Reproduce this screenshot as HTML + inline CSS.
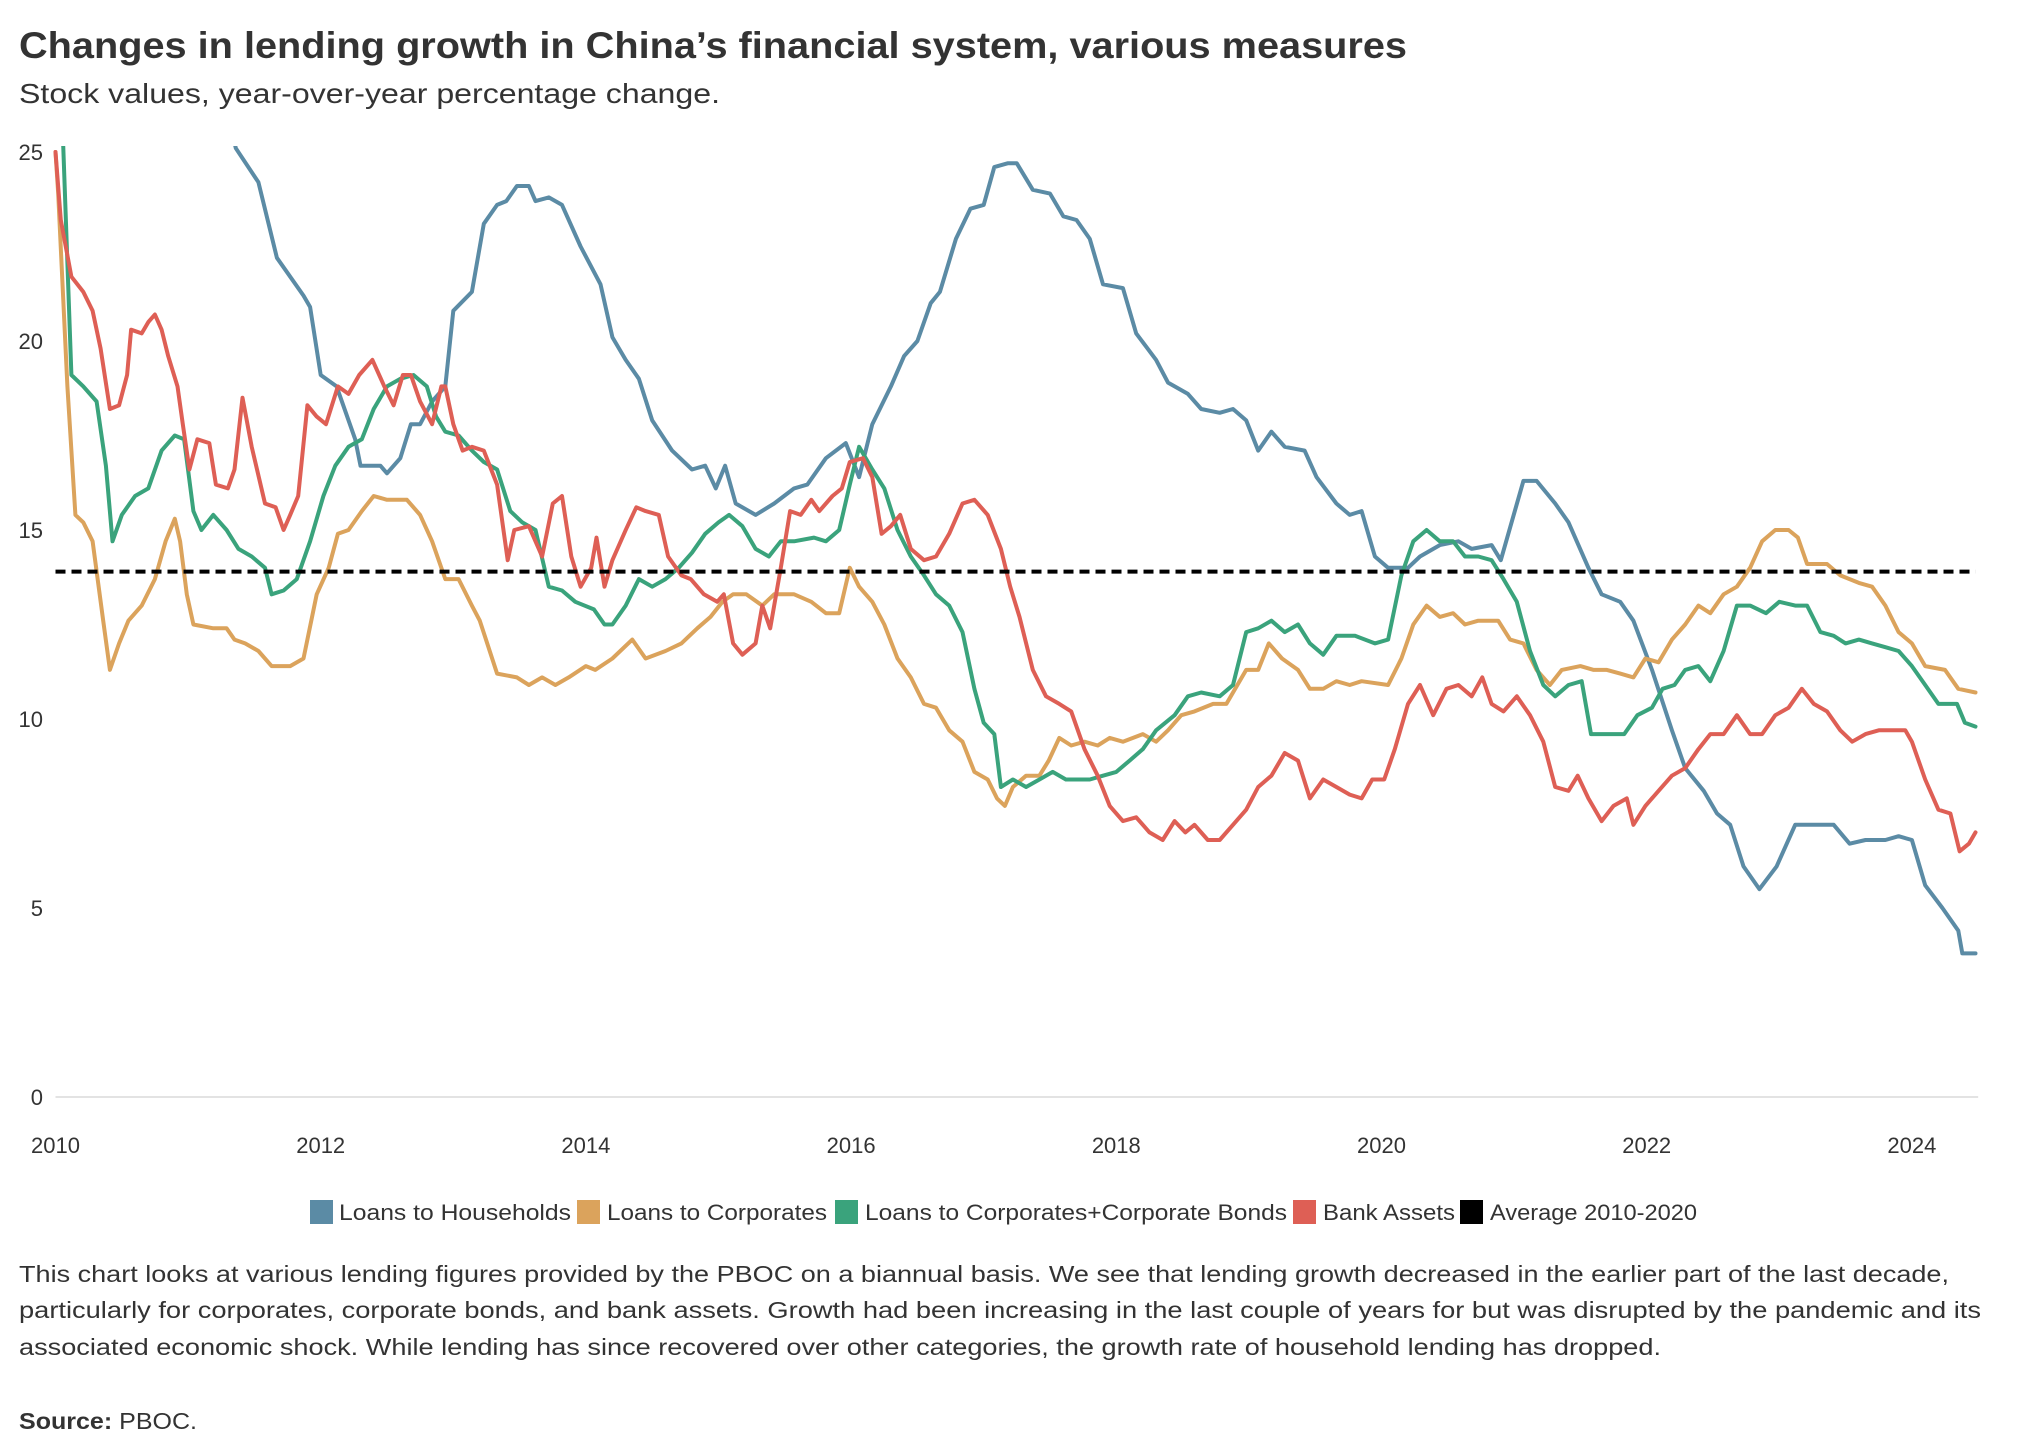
<!DOCTYPE html>
<html><head><meta charset="utf-8"><style>
html,body{margin:0;padding:0;background:#fff;}
svg{display:block;font-family:"Liberation Sans",sans-serif;}
</style></head><body>
<svg id="chart" width="2024" height="1455" viewBox="0 0 2024 1455" xmlns="http://www.w3.org/2000/svg">
<text x="19" y="58" font-size="37" font-weight="bold" fill="#333" textLength="1388" lengthAdjust="spacingAndGlyphs">Changes in lending growth in China’s financial system, various measures</text>
<text x="19" y="103" font-size="28" fill="#333" textLength="701" lengthAdjust="spacingAndGlyphs">Stock values, year-over-year percentage change.</text>
<defs><clipPath id="plotclip"><rect x="40" y="146" width="1960" height="960"/></clipPath></defs>
<g id="axes"></g>
<g id="series" clip-path="url(#plotclip)"></g>
<g id="legend">
<rect x="310" y="1200" width="23" height="24" fill="#5b8ba5"/>
<text x="339" y="1220" font-size="22" fill="#333" textLength="232" lengthAdjust="spacingAndGlyphs">Loans to Households</text>
<rect x="577" y="1200" width="23" height="24" fill="#dba35c"/>
<text x="607" y="1220" font-size="22" fill="#333" textLength="220" lengthAdjust="spacingAndGlyphs">Loans to Corporates</text>
<rect x="835" y="1200" width="23" height="24" fill="#3aa37c"/>
<text x="865" y="1220" font-size="22" fill="#333" textLength="422" lengthAdjust="spacingAndGlyphs">Loans to Corporates+Corporate Bonds</text>
<rect x="1293" y="1200" width="23" height="24" fill="#de5f55"/>
<text x="1323" y="1220" font-size="22" fill="#333" textLength="132" lengthAdjust="spacingAndGlyphs">Bank Assets</text>
<rect x="1460" y="1200" width="23" height="24" fill="#000"/>
<text x="1490" y="1220" font-size="22" fill="#333" textLength="207" lengthAdjust="spacingAndGlyphs">Average 2010-2020</text>
</g>
<g font-size="23" fill="#333">
<text x="19" y="1282" textLength="1930" lengthAdjust="spacingAndGlyphs">This chart looks at various lending figures provided by the PBOC on a biannual basis. We see that lending growth decreased in the earlier part of the last decade,</text>
<text x="19" y="1318" textLength="1962" lengthAdjust="spacingAndGlyphs">particularly for corporates, corporate bonds, and bank assets. Growth had been increasing in the last couple of years for but was disrupted by the pandemic and its</text>
<text x="19" y="1355" textLength="1642" lengthAdjust="spacingAndGlyphs">associated economic shock. While lending has since recovered over other categories, the growth rate of household lending has dropped.</text>
</g>
<text x="19" y="1429" font-size="23" fill="#333" textLength="178" lengthAdjust="spacingAndGlyphs"><tspan font-weight="bold">Source:</tspan> PBOC.</text>
</svg>
<script>
const yTicks=[0,5,10,15,20,25];
const xTicks=[2010,2012,2014,2016,2018,2020,2022,2024];
const averageValue=13.9;
const hhDates=[2011.3,2011.36,2011.53,2011.67,2011.87,2011.92,2012.0,2012.12,2012.26,2012.3,2012.45,2012.5,2012.6,2012.68,2012.75,2012.84,2012.94,2013.0,2013.14,2013.23,2013.33,2013.4,2013.48,2013.57,2013.62,2013.72,2013.82,2013.96,2014.11,2014.2,2014.3,2014.4,2014.5,2014.65,2014.8,2014.9,2014.98,2015.05,2015.13,2015.28,2015.42,2015.57,2015.67,2015.81,2015.96,2016.06,2016.16,2016.3,2016.4,2016.5,2016.6,2016.67,2016.79,2016.9,2017.0,2017.08,2017.18,2017.25,2017.37,2017.5,2017.6,2017.7,2017.8,2017.9,2018.05,2018.15,2018.3,2018.39,2018.54,2018.64,2018.78,2018.88,2018.98,2019.07,2019.17,2019.27,2019.42,2019.51,2019.66,2019.76,2019.85,2019.95,2020.05,2020.2,2020.29,2020.44,2020.58,2020.68,2020.83,2020.9,2021.07,2021.17,2021.31,2021.41,2021.56,2021.66,2021.8,2021.9,2022.04,2022.19,2022.29,2022.43,2022.53,2022.63,2022.73,2022.85,2022.98,2023.12,2023.31,2023.41,2023.53,2023.65,2023.8,2023.9,2024.0,2024.1,2024.23,2024.35,2024.38,2024.48];
const hhValues=[26,25.1,24.2,22.2,21.2,20.9,19.1,18.8,17.4,16.7,16.7,16.5,16.9,17.8,17.8,18.4,18.8,20.8,21.3,23.1,23.6,23.7,24.1,24.1,23.7,23.8,23.6,22.5,21.5,20.1,19.5,19.0,17.9,17.1,16.6,16.7,16.1,16.7,15.7,15.4,15.7,16.1,16.2,16.9,17.3,16.4,17.8,18.8,19.6,20.0,21.0,21.3,22.7,23.5,23.6,24.6,24.7,24.7,24.0,23.9,23.3,23.2,22.7,21.5,21.4,20.2,19.5,18.9,18.6,18.2,18.1,18.2,17.9,17.1,17.6,17.2,17.1,16.4,15.7,15.4,15.5,14.3,14.0,14.0,14.3,14.6,14.7,14.5,14.6,14.2,16.3,16.3,15.7,15.2,14.0,13.3,13.1,12.6,11.3,9.7,8.7,8.1,7.5,7.2,6.1,5.5,6.1,7.2,7.2,7.2,6.7,6.8,6.8,6.9,6.8,5.6,5.0,4.4,3.8,3.8];
const coDates=[2010.0,2010.02,2010.09,2010.15,2010.21,2010.28,2010.36,2010.41,2010.48,2010.55,2010.65,2010.75,2010.83,2010.9,2010.94,2010.99,2011.04,2011.19,2011.29,2011.35,2011.43,2011.53,2011.63,2011.77,2011.87,2011.97,2012.06,2012.13,2012.21,2012.31,2012.4,2012.5,2012.65,2012.75,2012.84,2012.94,2013.04,2013.14,2013.2,2013.33,2013.48,2013.57,2013.67,2013.77,2013.87,2014.0,2014.07,2014.2,2014.35,2014.45,2014.6,2014.72,2014.84,2014.94,2015.03,2015.11,2015.21,2015.33,2015.42,2015.57,2015.7,2015.81,2015.91,2015.99,2016.06,2016.16,2016.25,2016.35,2016.45,2016.55,2016.64,2016.74,2016.84,2016.93,2017.03,2017.1,2017.16,2017.22,2017.32,2017.42,2017.49,2017.57,2017.66,2017.76,2017.86,2017.95,2018.05,2018.2,2018.3,2018.39,2018.49,2018.59,2018.73,2018.83,2018.98,2019.07,2019.15,2019.25,2019.37,2019.46,2019.56,2019.66,2019.76,2019.85,2020.05,2020.15,2020.24,2020.34,2020.44,2020.54,2020.63,2020.73,2020.88,2020.97,2021.07,2021.17,2021.27,2021.36,2021.5,2021.6,2021.7,2021.8,2021.9,2021.99,2022.09,2022.19,2022.29,2022.39,2022.48,2022.58,2022.68,2022.78,2022.87,2022.97,2023.07,2023.14,2023.21,2023.36,2023.46,2023.6,2023.7,2023.8,2023.9,2024.0,2024.1,2024.25,2024.35,2024.48];
const coValues=[25,23.9,18.8,15.4,15.2,14.7,12.6,11.3,12.0,12.6,13.0,13.7,14.7,15.3,14.7,13.3,12.5,12.4,12.4,12.1,12.0,11.8,11.4,11.4,11.6,13.3,14.0,14.9,15.0,15.5,15.9,15.8,15.8,15.4,14.7,13.7,13.7,13.0,12.6,11.2,11.1,10.9,11.1,10.9,11.1,11.4,11.3,11.6,12.1,11.6,11.8,12.0,12.4,12.7,13.1,13.3,13.3,13.0,13.3,13.3,13.1,12.8,12.8,14.0,13.5,13.1,12.5,11.6,11.1,10.4,10.3,9.7,9.4,8.6,8.4,7.9,7.7,8.2,8.5,8.5,8.9,9.5,9.3,9.4,9.3,9.5,9.4,9.6,9.4,9.7,10.1,10.2,10.4,10.4,11.3,11.3,12.0,11.6,11.3,10.8,10.8,11.0,10.9,11.0,10.9,11.6,12.5,13.0,12.7,12.8,12.5,12.6,12.6,12.1,12.0,11.3,10.9,11.3,11.4,11.3,11.3,11.2,11.1,11.6,11.5,12.1,12.5,13.0,12.8,13.3,13.5,14.0,14.7,15.0,15.0,14.8,14.1,14.1,13.8,13.6,13.5,13.0,12.3,12.0,11.4,11.3,10.8,10.7];
const cbDates=[2010.05,2010.12,2010.21,2010.31,2010.38,2010.43,2010.5,2010.6,2010.7,2010.8,2010.9,2010.97,2011.04,2011.1,2011.19,2011.29,2011.38,2011.48,2011.58,2011.63,2011.72,2011.82,2011.92,2012.02,2012.11,2012.21,2012.31,2012.4,2012.5,2012.6,2012.7,2012.8,2012.87,2012.94,2013.04,2013.14,2013.23,2013.33,2013.43,2013.52,2013.62,2013.72,2013.82,2013.92,2014.06,2014.14,2014.2,2014.3,2014.4,2014.5,2014.6,2014.7,2014.8,2014.9,2015.0,2015.08,2015.18,2015.28,2015.38,2015.47,2015.57,2015.72,2015.81,2015.91,2015.99,2016.06,2016.16,2016.25,2016.35,2016.45,2016.55,2016.64,2016.74,2016.84,2016.93,2017.0,2017.08,2017.13,2017.22,2017.32,2017.42,2017.52,2017.62,2017.71,2017.8,2017.9,2018.0,2018.1,2018.2,2018.3,2018.44,2018.54,2018.64,2018.78,2018.88,2018.98,2019.07,2019.17,2019.27,2019.37,2019.46,2019.56,2019.66,2019.8,2019.95,2020.05,2020.15,2020.24,2020.34,2020.44,2020.54,2020.63,2020.73,2020.83,2020.92,2021.02,2021.12,2021.22,2021.31,2021.41,2021.51,2021.58,2021.7,2021.83,2021.93,2022.04,2022.12,2022.21,2022.29,2022.39,2022.48,2022.58,2022.68,2022.78,2022.9,2023.0,2023.12,2023.21,2023.31,2023.41,2023.5,2023.6,2023.7,2023.8,2023.9,2024.0,2024.1,2024.2,2024.34,2024.4,2024.48];
const cbValues=[26,19.1,18.8,18.4,16.7,14.7,15.4,15.9,16.1,17.1,17.5,17.4,15.5,15.0,15.4,15.0,14.5,14.3,14.0,13.3,13.4,13.7,14.7,15.9,16.7,17.2,17.4,18.2,18.8,19.0,19.1,18.8,18.0,17.6,17.5,17.1,16.8,16.6,15.5,15.2,15.0,13.5,13.4,13.1,12.9,12.5,12.5,13.0,13.7,13.5,13.7,14.0,14.4,14.9,15.2,15.4,15.1,14.5,14.3,14.7,14.7,14.8,14.7,15.0,16.2,17.2,16.6,16.1,15.0,14.3,13.8,13.3,13.0,12.3,10.8,9.9,9.6,8.2,8.4,8.2,8.4,8.6,8.4,8.4,8.4,8.5,8.6,8.9,9.2,9.7,10.1,10.6,10.7,10.6,10.9,12.3,12.4,12.6,12.3,12.5,12.0,11.7,12.2,12.2,12.0,12.1,13.8,14.7,15.0,14.7,14.7,14.3,14.3,14.2,13.7,13.1,11.8,10.9,10.6,10.9,11.0,9.6,9.6,9.6,10.1,10.3,10.8,10.9,11.3,11.4,11.0,11.8,13.0,13.0,12.8,13.1,13.0,13.0,12.3,12.2,12.0,12.1,12.0,11.9,11.8,11.4,10.9,10.4,10.4,9.9,9.8];
const baDates=[2010.0,2010.04,2010.12,2010.21,2010.28,2010.34,2010.41,2010.48,2010.54,2010.57,2010.65,2010.7,2010.75,2010.8,2010.85,2010.92,2010.96,2011.01,2011.07,2011.16,2011.21,2011.3,2011.35,2011.41,2011.48,2011.58,2011.66,2011.72,2011.77,2011.83,2011.9,2011.97,2012.04,2012.13,2012.21,2012.29,2012.39,2012.48,2012.55,2012.62,2012.68,2012.75,2012.84,2012.91,2012.94,2013.0,2013.07,2013.14,2013.23,2013.33,2013.41,2013.46,2013.57,2013.67,2013.75,2013.82,2013.89,2013.96,2014.04,2014.08,2014.14,2014.2,2014.3,2014.38,2014.45,2014.55,2014.62,2014.72,2014.79,2014.89,2014.99,2015.04,2015.11,2015.18,2015.28,2015.33,2015.39,2015.47,2015.54,2015.62,2015.7,2015.76,2015.86,2015.93,2015.99,2016.09,2016.16,2016.23,2016.3,2016.37,2016.45,2016.55,2016.64,2016.74,2016.84,2016.93,2017.03,2017.13,2017.2,2017.27,2017.37,2017.47,2017.57,2017.66,2017.76,2017.86,2017.95,2018.05,2018.15,2018.25,2018.35,2018.44,2018.52,2018.59,2018.69,2018.78,2018.88,2018.98,2019.07,2019.17,2019.27,2019.37,2019.46,2019.56,2019.66,2019.76,2019.85,2019.93,2020.02,2020.1,2020.2,2020.29,2020.39,2020.49,2020.58,2020.68,2020.76,2020.83,2020.92,2021.02,2021.12,2021.22,2021.31,2021.41,2021.48,2021.56,2021.66,2021.75,2021.85,2021.9,2021.99,2022.09,2022.19,2022.29,2022.39,2022.48,2022.58,2022.68,2022.78,2022.87,2022.97,2023.07,2023.17,2023.26,2023.36,2023.46,2023.55,2023.65,2023.75,2023.85,2023.95,2024.0,2024.1,2024.2,2024.29,2024.36,2024.43,2024.48];
const baValues=[25.0,23.2,21.7,21.3,20.8,19.8,18.2,18.3,19.1,20.3,20.2,20.5,20.7,20.3,19.6,18.8,17.8,16.6,17.4,17.3,16.2,16.1,16.6,18.5,17.2,15.7,15.6,15.0,15.4,15.9,18.3,18.0,17.8,18.8,18.6,19.1,19.5,18.8,18.3,19.1,19.1,18.4,17.8,18.8,18.8,17.8,17.1,17.2,17.1,16.2,14.2,15.0,15.1,14.3,15.7,15.9,14.3,13.5,14.0,14.8,13.5,14.2,15.0,15.6,15.5,15.4,14.3,13.8,13.7,13.3,13.1,13.3,12.0,11.7,12.0,13.0,12.4,14.0,15.5,15.4,15.8,15.5,15.9,16.1,16.8,16.9,16.4,14.9,15.1,15.4,14.5,14.2,14.3,14.9,15.7,15.8,15.4,14.5,13.5,12.7,11.3,10.6,10.4,10.2,9.2,8.5,7.7,7.3,7.4,7.0,6.8,7.3,7.0,7.2,6.8,6.8,7.2,7.6,8.2,8.5,9.1,8.9,7.9,8.4,8.2,8.0,7.9,8.4,8.4,9.2,10.4,10.9,10.1,10.8,10.9,10.6,11.1,10.4,10.2,10.6,10.1,9.4,8.2,8.1,8.5,7.9,7.3,7.7,7.9,7.2,7.7,8.1,8.5,8.7,9.2,9.6,9.6,10.1,9.6,9.6,10.1,10.3,10.8,10.4,10.2,9.7,9.4,9.6,9.7,9.7,9.7,9.4,8.4,7.6,7.5,6.5,6.7,7.0];
const NS="http://www.w3.org/2000/svg";
const X0=55.5,PX=132.6,Y0=1097,PY=37.8;
function xScale(yr){return X0+PX*(yr-2010);}
function yScale(v){return Y0-PY*v;}
const axes=document.getElementById('axes');
const series=document.getElementById('series');
const grid=document.createElementNS(NS,'line');


grid.setAttribute('x1',xScale(2010));grid.setAttribute('x2',xScale(2024.5));
grid.setAttribute('y1',yScale(0));grid.setAttribute('y2',yScale(0));
grid.setAttribute('stroke','#e3e3e3');grid.setAttribute('stroke-width','2');
axes.appendChild(grid);
yTicks.forEach(function(t){
  const tx=document.createElementNS(NS,'text');
  
  
  tx.setAttribute('x',43);tx.setAttribute('y',yScale(t)+8);
  tx.setAttribute('text-anchor','end');tx.setAttribute('font-size','22');tx.setAttribute('fill','#333');
  tx.textContent=t;axes.appendChild(tx);
});
xTicks.forEach(function(t){
  const tx=document.createElementNS(NS,'text');
  
  
  tx.setAttribute('x',xScale(t));tx.setAttribute('y',1153);
  tx.setAttribute('text-anchor','middle');tx.setAttribute('font-size','22');tx.setAttribute('fill','#333');
  tx.textContent=t;axes.appendChild(tx);
});
function drawLine(dates,vals,color,name){
  const p=document.createElementNS(NS,'polyline');
  
  
  p.setAttribute('points',dates.map(function(d,i){return xScale(d).toFixed(1)+','+yScale(vals[i]).toFixed(1);}).join(' '));
  p.setAttribute('fill','none');p.setAttribute('stroke',color);p.setAttribute('stroke-width','4');
  p.setAttribute('stroke-linejoin','round');p.setAttribute('stroke-linecap','round');
  series.appendChild(p);
}
drawLine(hhDates,hhValues,'#5b8ba5','line-households');
drawLine(coDates,coValues,'#dba35c','line-corporates');
drawLine(cbDates,cbValues,'#3aa37c','line-corporates-bonds');
drawLine(baDates,baValues,'#de5f55','line-bank-assets');
const avg=document.createElementNS(NS,'line');


avg.setAttribute('x1',xScale(2010));avg.setAttribute('x2',xScale(2024.48));
avg.setAttribute('y1',yScale(averageValue));avg.setAttribute('y2',yScale(averageValue));
avg.setAttribute('stroke','#000');avg.setAttribute('stroke-width','4');avg.setAttribute('stroke-dasharray','10 6');
series.appendChild(avg);
</script>
</body></html>
